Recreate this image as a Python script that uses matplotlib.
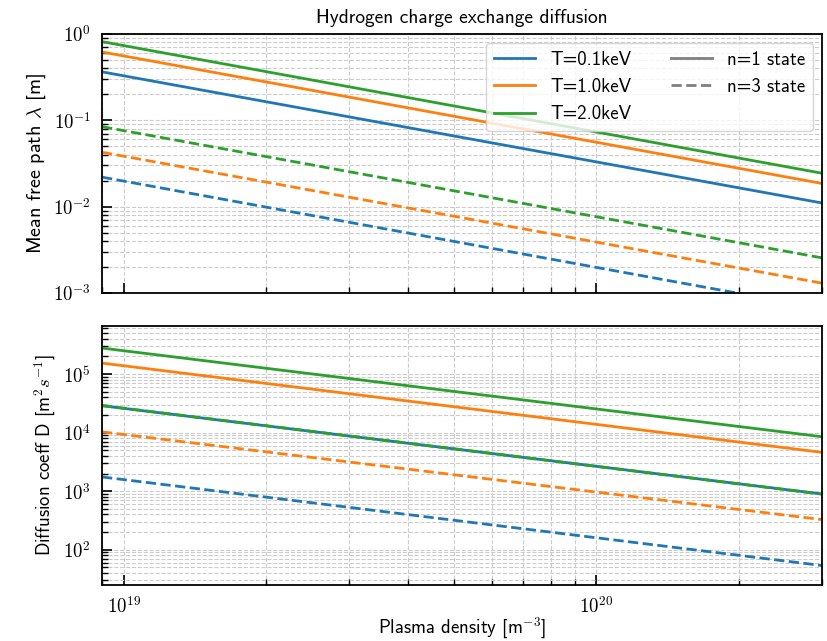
import numpy as np
from matplotlib import pyplot as plt
from matplotlib.lines import Line2D
from matplotlib.ticker import FuncFormatter, NullFormatter

plt.rcParams['font.family'] = ['cmss10', 'DejaVu Sans']
plt.rcParams['mathtext.fontset'] = 'cm'
plt.rcParams['axes.unicode_minus'] = False

# plasma density at the two ends of the scan [m^-3]
density = [9e18, 3e20]
temps_kev = ['0.1', '1.0', '2.0']
colors = ['tab:blue', 'tab:orange', 'tab:green']

# mean free path [m] at low / high density, one row per temperature
mfp_n1 = [[0.362, 0.0110], [0.615, 0.0185], [0.81, 0.0243]]
mfp_n3 = [[0.0219, 0.00066], [0.0425, 0.0013], [0.084, 0.00255]]

# diffusion coefficient [m^2/s]
diff_n1 = [[2.88e4, 895], [1.54e5, 4.6e3], [2.78e5, 8.5e3]]
diff_n3 = [[1.75e3, 53.7], [1.03e4, 327], [2.9e4, 890]]


def pow10(v, pos):
    return r'$10^{%d}$' % round(np.log10(v))


fig = plt.figure(figsize=(8.28, 6.41), dpi=100)
ax1 = fig.add_axes([0.1232, 0.5429, 0.8696, 0.4045])
ax2 = fig.add_axes([0.1232, 0.0874, 0.8696, 0.4045], sharex=ax1)

for i, T in enumerate(temps_kev):
    ax1.plot(density, mfp_n1[i], color=colors[i], lw=2)
    ax1.plot(density, mfp_n3[i], color=colors[i], lw=2, ls='--')
    ax2.plot(density, diff_n1[i], color=colors[i], lw=2)
    ax2.plot(density, diff_n3[i], color=colors[i], lw=2, ls='--')

for ax in (ax1, ax2):
    ax.set_xscale('log')
    ax.set_yscale('log')
    ax.grid(which='both', ls='--', color='0.8', lw=0.8)
    ax.tick_params(which='both', direction='in', labelsize=13.5, pad=8)
    ax.tick_params(which='major', length=7, width=1.2)
    ax.tick_params(which='minor', length=4, width=1.0)
    for axis in (ax.xaxis, ax.yaxis):
        axis.set_major_formatter(FuncFormatter(pow10))
        axis.set_minor_formatter(NullFormatter())
    for s in ax.spines.values():
        s.set_linewidth(1.3)

ax1.set_xlim(density[0], density[1])
ax1.set_ylim(1e-3, 1)
ax2.set_ylim(25, 6.7e5)
ax1.tick_params(labelbottom=False)

ax1.set_title('Hydrogen charge exchange diffusion', fontsize=14, pad=8)
ax1.set_ylabel(r'Mean free path $\lambda$ [m]', fontsize=14.5)
ax2.set_ylabel(r'Diffusion coeff D [m$^2s^{-1}$]', fontsize=13.5)
ax2.set_xlabel(r'Plasma density [m$^{-3}$]', fontsize=13.5, labelpad=-1)

handles = [Line2D([], [], color=c, lw=2) for c in colors]
handles += [Line2D([], [], color='gray', lw=2),
            Line2D([], [], color='gray', lw=2, ls='--')]
labels = ['T=%skeV' % t for t in temps_kev] + ['n=1 state', 'n=3 state']
ax1.legend(handles, labels, loc='upper right', ncol=2, fontsize=13.5,
           handlelength=2.2, columnspacing=2.1, labelspacing=0.5)

fig.savefig('out.png', dpi=100)
